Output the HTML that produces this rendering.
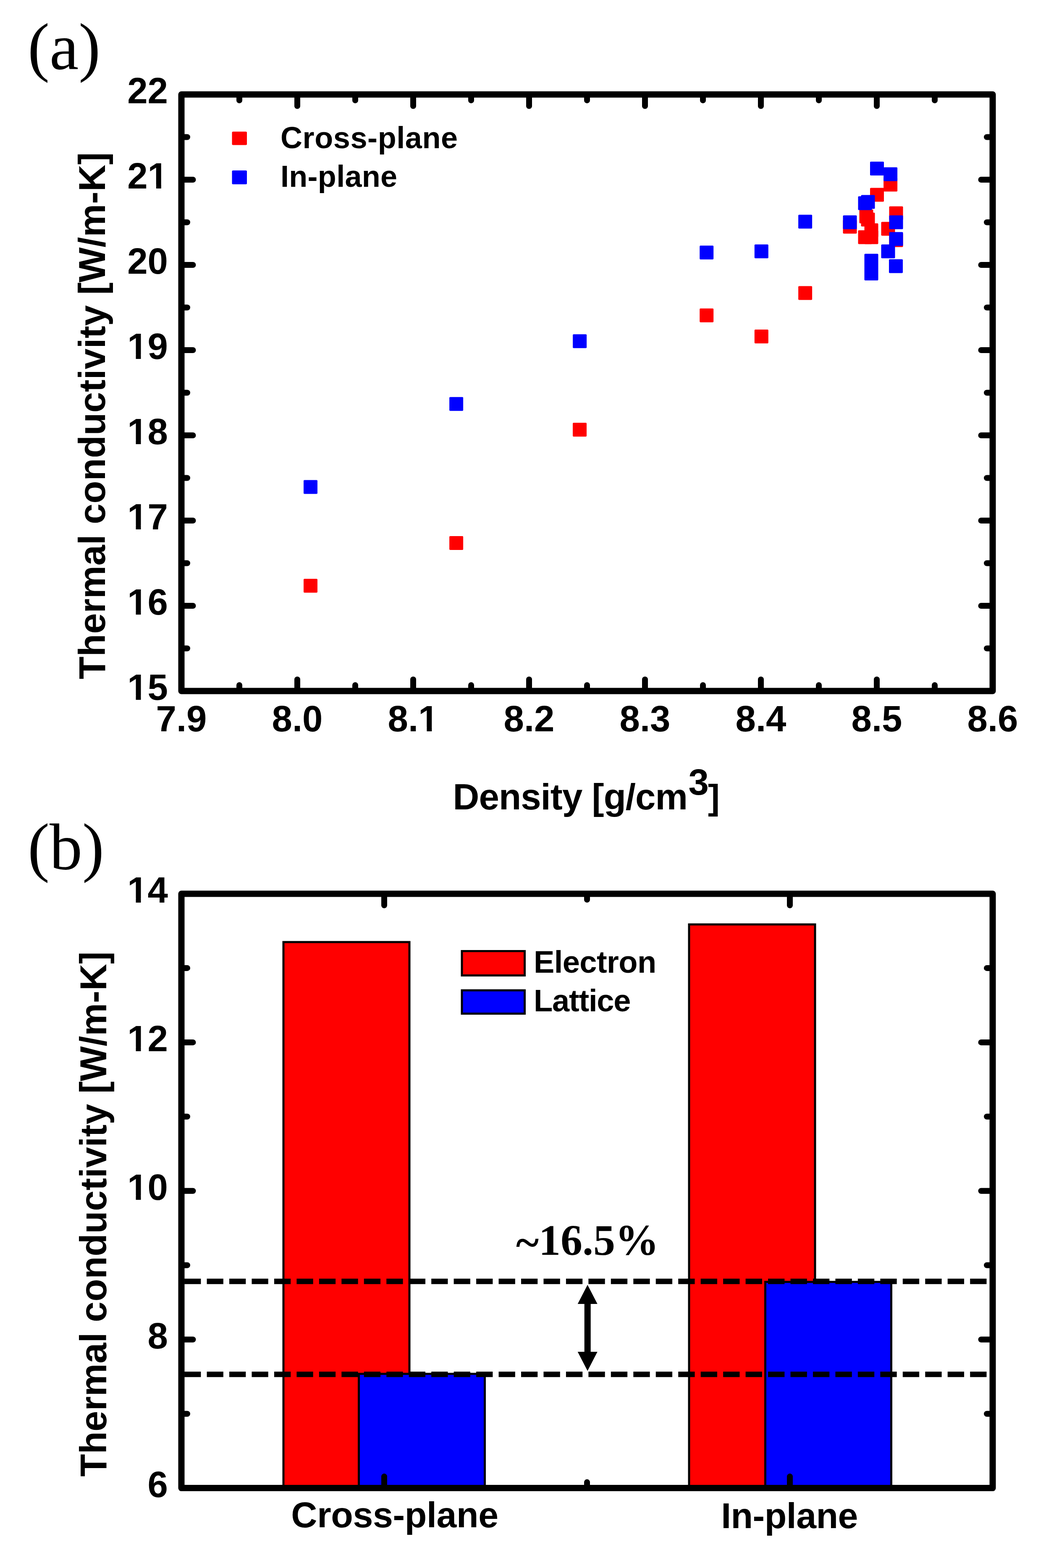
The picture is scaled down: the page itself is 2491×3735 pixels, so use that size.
<!DOCTYPE html><html><head><meta charset="utf-8"><title>Thermal conductivity figure</title>
<style>html,body{margin:0;padding:0;background:#fff;}svg{display:block;}.s{font-family:"Liberation Sans", Arial, sans-serif;font-weight:bold;} .r{font-family:"Liberation Serif", "Times New Roman", serif;}</style></head><body>
<svg width="2491" height="3735" viewBox="0 0 2491 3735">
<rect width="2491" height="3735" fill="#fff"/>
<text class="r" x="66" y="163.5" font-size="156">(a)</text>
<g fill="#ff0000">
<rect x="723.0" y="1378.8" width="33" height="33" rx="2"/>
<rect x="1070.1" y="1277.0" width="33" height="33" rx="2"/>
<rect x="1364.0" y="1007.0" width="33" height="33" rx="2"/>
<rect x="1666.2" y="734.7" width="33" height="33" rx="2"/>
<rect x="1796.8" y="784.9" width="33" height="33" rx="2"/>
<rect x="1901.1" y="681.4" width="33" height="33" rx="2"/>
<rect x="2104.1" y="423.2" width="33" height="33" rx="2"/>
<rect x="2072.0" y="447.5" width="33" height="33" rx="2"/>
<rect x="2117.5" y="491.5" width="33" height="33" rx="2"/>
<rect x="2046.5" y="499.0" width="33" height="33" rx="2"/>
<rect x="2050.5" y="506.5" width="33" height="33" rx="2"/>
<rect x="2058.5" y="532.0" width="33" height="33" rx="2"/>
<rect x="2043.5" y="548.5" width="33" height="33" rx="2"/>
<rect x="2058.5" y="548.5" width="33" height="33" rx="2"/>
<rect x="2007.5" y="523.5" width="33" height="33" rx="2"/>
<rect x="2098.5" y="528.5" width="33" height="33" rx="2"/>
<rect x="2117.5" y="555.5" width="33" height="33" rx="2"/>
</g><g fill="#0000ff">
<rect x="723.0" y="1143.5" width="33" height="33" rx="2"/>
<rect x="1070.1" y="945.8" width="33" height="33" rx="2"/>
<rect x="1364.1" y="796.2" width="33" height="33" rx="2"/>
<rect x="1666.2" y="584.9" width="33" height="33" rx="2"/>
<rect x="1796.8" y="582.2" width="33" height="33" rx="2"/>
<rect x="1901.1" y="511.5" width="33" height="33" rx="2"/>
<rect x="2072.0" y="385.0" width="33" height="33" rx="2"/>
<rect x="2104.1" y="398.5" width="33" height="33" rx="2"/>
<rect x="2043.5" y="467.5" width="33" height="33" rx="2"/>
<rect x="2050.5" y="464.5" width="33" height="33" rx="2"/>
<rect x="2007.5" y="513.0" width="33" height="33" rx="2"/>
<rect x="2117.5" y="513.0" width="33" height="33" rx="2"/>
<rect x="2117.5" y="552.8" width="33" height="33" rx="2"/>
<rect x="2098.5" y="582.2" width="33" height="33" rx="2"/>
<rect x="2117.0" y="617.5" width="33" height="33" rx="2"/>
<rect x="2058.5" y="604.5" width="33" height="33" rx="2"/>
<rect x="2058.5" y="635.0" width="33" height="33" rx="2"/>
</g>
<rect x="552.5" y="313.5" width="35.5" height="32" rx="2.5" fill="#ff0000"/>
<rect x="552.5" y="406" width="35.5" height="33" rx="2.5" fill="#0000ff"/>
<text class="s" x="668" y="352.5" font-size="72" letter-spacing="0.6">Cross-plane</text>
<text class="s" x="668" y="444.5" font-size="72" letter-spacing="0.3">In-plane</text>
<g stroke="#000" stroke-width="14" stroke-linecap="round">
<line x1="570.0" y1="225.0" x2="570.0" y2="239.0"/>
<line x1="570.0" y1="1646.0" x2="570.0" y2="1632.0"/>
<line x1="708.0" y1="225.0" x2="708.0" y2="252.5"/>
<line x1="708.0" y1="1646.0" x2="708.0" y2="1618.5"/>
<line x1="846.0" y1="225.0" x2="846.0" y2="239.0"/>
<line x1="846.0" y1="1646.0" x2="846.0" y2="1632.0"/>
<line x1="984.0" y1="225.0" x2="984.0" y2="252.5"/>
<line x1="984.0" y1="1646.0" x2="984.0" y2="1618.5"/>
<line x1="1122.0" y1="225.0" x2="1122.0" y2="239.0"/>
<line x1="1122.0" y1="1646.0" x2="1122.0" y2="1632.0"/>
<line x1="1260.0" y1="225.0" x2="1260.0" y2="252.5"/>
<line x1="1260.0" y1="1646.0" x2="1260.0" y2="1618.5"/>
<line x1="1398.0" y1="225.0" x2="1398.0" y2="239.0"/>
<line x1="1398.0" y1="1646.0" x2="1398.0" y2="1632.0"/>
<line x1="1536.0" y1="225.0" x2="1536.0" y2="252.5"/>
<line x1="1536.0" y1="1646.0" x2="1536.0" y2="1618.5"/>
<line x1="1674.0" y1="225.0" x2="1674.0" y2="239.0"/>
<line x1="1674.0" y1="1646.0" x2="1674.0" y2="1632.0"/>
<line x1="1812.0" y1="225.0" x2="1812.0" y2="252.5"/>
<line x1="1812.0" y1="1646.0" x2="1812.0" y2="1618.5"/>
<line x1="1950.0" y1="225.0" x2="1950.0" y2="239.0"/>
<line x1="1950.0" y1="1646.0" x2="1950.0" y2="1632.0"/>
<line x1="2088.0" y1="225.0" x2="2088.0" y2="252.5"/>
<line x1="2088.0" y1="1646.0" x2="2088.0" y2="1618.5"/>
<line x1="2226.0" y1="225.0" x2="2226.0" y2="239.0"/>
<line x1="2226.0" y1="1646.0" x2="2226.0" y2="1632.0"/>
<line x1="432.0" y1="1544.5" x2="446.0" y2="1544.5"/>
<line x1="2364.0" y1="1544.5" x2="2350.0" y2="1544.5"/>
<line x1="432.0" y1="1443.0" x2="459.5" y2="1443.0"/>
<line x1="2364.0" y1="1443.0" x2="2336.5" y2="1443.0"/>
<line x1="432.0" y1="1341.5" x2="446.0" y2="1341.5"/>
<line x1="2364.0" y1="1341.5" x2="2350.0" y2="1341.5"/>
<line x1="432.0" y1="1240.0" x2="459.5" y2="1240.0"/>
<line x1="2364.0" y1="1240.0" x2="2336.5" y2="1240.0"/>
<line x1="432.0" y1="1138.5" x2="446.0" y2="1138.5"/>
<line x1="2364.0" y1="1138.5" x2="2350.0" y2="1138.5"/>
<line x1="432.0" y1="1037.0" x2="459.5" y2="1037.0"/>
<line x1="2364.0" y1="1037.0" x2="2336.5" y2="1037.0"/>
<line x1="432.0" y1="935.5" x2="446.0" y2="935.5"/>
<line x1="2364.0" y1="935.5" x2="2350.0" y2="935.5"/>
<line x1="432.0" y1="834.0" x2="459.5" y2="834.0"/>
<line x1="2364.0" y1="834.0" x2="2336.5" y2="834.0"/>
<line x1="432.0" y1="732.5" x2="446.0" y2="732.5"/>
<line x1="2364.0" y1="732.5" x2="2350.0" y2="732.5"/>
<line x1="432.0" y1="631.0" x2="459.5" y2="631.0"/>
<line x1="2364.0" y1="631.0" x2="2336.5" y2="631.0"/>
<line x1="432.0" y1="529.5" x2="446.0" y2="529.5"/>
<line x1="2364.0" y1="529.5" x2="2350.0" y2="529.5"/>
<line x1="432.0" y1="428.0" x2="459.5" y2="428.0"/>
<line x1="2364.0" y1="428.0" x2="2336.5" y2="428.0"/>
<line x1="432.0" y1="326.5" x2="446.0" y2="326.5"/>
<line x1="2364.0" y1="326.5" x2="2350.0" y2="326.5"/>
</g>
<rect x="432" y="225" width="1932" height="1421" fill="none" stroke="#000" stroke-width="15" stroke-linejoin="round"/>
<text class="s" x="432.00" y="1742.00" font-size="87" text-anchor="middle">7.9</text>
<text class="s" x="708.00" y="1742.00" font-size="87" text-anchor="middle">8.0</text>
<text class="s" x="984.00" y="1742.00" font-size="87" text-anchor="middle">8.1</text>
<rect x="1000.07" y="1732.12" width="16.33" height="11.38" fill="#fff"/>
<rect x="1028.33" y="1732.12" width="15.22" height="11.38" fill="#fff"/>
<text class="s" x="1260.00" y="1742.00" font-size="87" text-anchor="middle">8.2</text>
<text class="s" x="1536.00" y="1742.00" font-size="87" text-anchor="middle">8.3</text>
<text class="s" x="1812.00" y="1742.00" font-size="87" text-anchor="middle">8.4</text>
<text class="s" x="2088.00" y="1742.00" font-size="87" text-anchor="middle">8.5</text>
<text class="s" x="2364.00" y="1742.00" font-size="87" text-anchor="middle">8.6</text>
<text class="s" x="400.00" y="1667.00" font-size="87" text-anchor="end">15</text>
<rect x="307.21" y="1657.12" width="16.33" height="11.38" fill="#fff"/>
<rect x="335.47" y="1657.12" width="15.22" height="11.38" fill="#fff"/>
<text class="s" x="400.00" y="1464.00" font-size="87" text-anchor="end">16</text>
<rect x="307.21" y="1454.12" width="16.33" height="11.38" fill="#fff"/>
<rect x="335.47" y="1454.12" width="15.22" height="11.38" fill="#fff"/>
<text class="s" x="400.00" y="1261.00" font-size="87" text-anchor="end">17</text>
<rect x="307.21" y="1251.12" width="16.33" height="11.38" fill="#fff"/>
<rect x="335.47" y="1251.12" width="15.22" height="11.38" fill="#fff"/>
<text class="s" x="400.00" y="1058.00" font-size="87" text-anchor="end">18</text>
<rect x="307.21" y="1048.12" width="16.33" height="11.38" fill="#fff"/>
<rect x="335.47" y="1048.12" width="15.22" height="11.38" fill="#fff"/>
<text class="s" x="400.00" y="855.00" font-size="87" text-anchor="end">19</text>
<rect x="307.21" y="845.12" width="16.33" height="11.38" fill="#fff"/>
<rect x="335.47" y="845.12" width="15.22" height="11.38" fill="#fff"/>
<text class="s" x="400.00" y="652.00" font-size="87" text-anchor="end">20</text>
<text class="s" x="400.00" y="449.00" font-size="87" text-anchor="end">21</text>
<rect x="355.59" y="439.12" width="16.33" height="11.38" fill="#fff"/>
<rect x="383.86" y="439.12" width="15.22" height="11.38" fill="#fff"/>
<text class="s" x="400.00" y="246.00" font-size="87" text-anchor="end">22</text>
<text class="s" x="1078.6" y="1928" font-size="87" letter-spacing="-0.93">Density [g/cm</text>
<text class="s" x="1639.5" y="1892.5" font-size="87">3</text>
<text class="s" x="1686" y="1928.4" font-size="84">]</text>
<text class="s" transform="translate(250,1618) rotate(-90)" x="0" y="0" font-size="88.6">Thermal conductivity [W/m-K]</text>
<text class="r" x="66" y="2069.5" font-size="156">(b)</text>
<rect x="675.0" y="2244.0" width="300.0" height="1300.6" fill="#ff0000" stroke="#000" stroke-width="5"/>
<rect x="854.5" y="3272.5" width="300.0" height="272.1" fill="#0000ff" stroke="#000" stroke-width="5"/>
<rect x="1641.0" y="2202.0" width="300.0" height="1342.6" fill="#ff0000" stroke="#000" stroke-width="5"/>
<rect x="1822.5" y="3053.5" width="300.0" height="491.1" fill="#0000ff" stroke="#000" stroke-width="5"/>
<rect x="1100.0" y="2265.5" width="149.5" height="58" fill="#ff0000" stroke="#000" stroke-width="5"/>
<rect x="1100.0" y="2359.0" width="149.5" height="55.5" fill="#0000ff" stroke="#000" stroke-width="5"/>
<text class="s" x="1271" y="2316.5" font-size="74" letter-spacing="-0.57">Electron</text>
<text class="s" x="1271" y="2409" font-size="74" letter-spacing="-1.17">Lattice</text>
<line x1="439.1" y1="3052.2" x2="2357" y2="3052.2" stroke="#000" stroke-width="13" stroke-dasharray="39.3 14.16"/>
<line x1="439.1" y1="3273.7" x2="2357" y2="3273.7" stroke="#000" stroke-width="13" stroke-dasharray="39.3 14.16"/>
<line x1="1399.2" y1="3100" x2="1399.2" y2="3226" stroke="#000" stroke-width="15"/>
<polygon points="1399.2,3060.5 1375.7,3106 1422.7,3106" fill="#000"/>
<polygon points="1399.2,3265.5 1375.7,3220 1422.7,3220" fill="#000"/>
<text x="1229" y="2988.5" font-size="104" font-family='&quot;Liberation Serif&quot;, &quot;Times New Roman&quot;, serif' font-weight="bold"><tspan dy="5">~</tspan><tspan dy="-5">16.5%</tspan></text>
<g stroke="#000" stroke-width="14" stroke-linecap="round">
<line x1="915.0" y1="2129.0" x2="915.0" y2="2156.5"/>
<line x1="915.0" y1="3544.6" x2="915.0" y2="3517.1"/>
<line x1="1398.0" y1="2129.0" x2="1398.0" y2="2143.0"/>
<line x1="1398.0" y1="3544.6" x2="1398.0" y2="3530.6"/>
<line x1="1881.0" y1="2129.0" x2="1881.0" y2="2156.5"/>
<line x1="1881.0" y1="3544.6" x2="1881.0" y2="3517.1"/>
<line x1="432.0" y1="3367.7" x2="446.0" y2="3367.7"/>
<line x1="2364.0" y1="3367.7" x2="2350.0" y2="3367.7"/>
<line x1="432.0" y1="3190.7" x2="459.5" y2="3190.7"/>
<line x1="2364.0" y1="3190.7" x2="2336.5" y2="3190.7"/>
<line x1="432.0" y1="3013.8" x2="446.0" y2="3013.8"/>
<line x1="2364.0" y1="3013.8" x2="2350.0" y2="3013.8"/>
<line x1="432.0" y1="2836.8" x2="459.5" y2="2836.8"/>
<line x1="2364.0" y1="2836.8" x2="2336.5" y2="2836.8"/>
<line x1="432.0" y1="2659.8" x2="446.0" y2="2659.8"/>
<line x1="2364.0" y1="2659.8" x2="2350.0" y2="2659.8"/>
<line x1="432.0" y1="2482.9" x2="459.5" y2="2482.9"/>
<line x1="2364.0" y1="2482.9" x2="2336.5" y2="2482.9"/>
<line x1="432.0" y1="2305.9" x2="446.0" y2="2305.9"/>
<line x1="2364.0" y1="2305.9" x2="2350.0" y2="2305.9"/>
</g>
<rect x="432" y="2129" width="1932" height="1415.6" fill="none" stroke="#000" stroke-width="15" stroke-linejoin="round"/>
<text class="s" x="400.00" y="3565.60" font-size="87" text-anchor="end">6</text>
<text class="s" x="400.00" y="3211.70" font-size="87" text-anchor="end">8</text>
<text class="s" x="400.00" y="2857.80" font-size="87" text-anchor="end">10</text>
<rect x="307.21" y="2847.92" width="16.33" height="11.38" fill="#fff"/>
<rect x="335.47" y="2847.92" width="15.22" height="11.38" fill="#fff"/>
<text class="s" x="400.00" y="2503.90" font-size="87" text-anchor="end">12</text>
<rect x="307.21" y="2494.02" width="16.33" height="11.38" fill="#fff"/>
<rect x="335.47" y="2494.02" width="15.22" height="11.38" fill="#fff"/>
<text class="s" x="400.00" y="2150.00" font-size="87" text-anchor="end">14</text>
<rect x="307.21" y="2140.12" width="16.33" height="11.38" fill="#fff"/>
<rect x="335.47" y="2140.12" width="15.22" height="11.38" fill="#fff"/>
<text class="s" x="940" y="3638" font-size="86" text-anchor="middle" letter-spacing="-0.34">Cross-plane</text>
<text class="s" x="1880" y="3640" font-size="86" text-anchor="middle" letter-spacing="-0.5">In-plane</text>
<text class="s" transform="translate(253,3517.5) rotate(-90)" x="0" y="0" font-size="88.3">Thermal conductivity [W/m-K]</text>
</svg></body></html>
